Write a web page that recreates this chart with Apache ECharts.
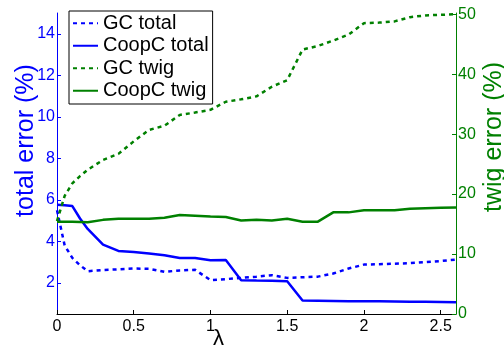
<!DOCTYPE html>
<html>
<head>
<meta charset="utf-8">
<script src="https://cdn.jsdelivr.net/npm/echarts@6/dist/echarts.min.js"></script>
<style>
html, body { margin: 0; padding: 0; background: #fff; }
#Chart { width: 504px; height: 347px; }
</style>
</head>
<body>
<div id="Chart"></div>
<script>
// lambda 取值
var lambdaList = [0, 0.05, 0.1, 0.15, 0.2, 0.3, 0.4, 0.5, 0.6, 0.7, 0.8, 0.9, 1.0, 1.1, 1.2, 1.3, 1.4, 1.5,
    1.6, 1.7, 1.8, 1.9, 2.0, 2.1, 2.2, 2.3, 2.4, 2.5, 2.6];
// total error (%), 左轴
var gcTotal = [5.5, 3.8, 3.2, 2.85, 2.56, 2.62, 2.65, 2.69, 2.68, 2.53, 2.6, 2.63, 2.13, 2.18, 2.24, 2.3, 2.37, 2.24,
    2.27, 2.3, 2.45, 2.69, 2.88, 2.9, 2.92, 2.95, 3.0, 3.05, 3.12];
var coopTotal = [5.76, 5.74, 5.7, 5.1, 4.6, 3.84, 3.54, 3.49, 3.42, 3.33, 3.2, 3.2, 3.09, 3.1, 2.13, 2.11, 2.1, 2.08,
    1.15, 1.14, 1.13, 1.12, 1.12, 1.11, 1.1, 1.09, 1.09, 1.08, 1.07];
// twig error (%), 右轴
var gcTwig = [15.5, 19.7, 21.8, 23.0, 24.05, 25.7, 26.7, 28.8, 30.7, 31.4, 33.2, 33.6, 34.05, 35.4, 35.8, 36.3, 37.9, 39.0,
    44.1, 44.7, 45.6, 46.6, 48.5, 48.6, 48.8, 49.5, 49.8, 49.9, 50.0];
var coopTwig = [15.4, 15.4, 15.4, 15.35, 15.3, 15.7, 15.9, 15.9, 15.9, 16.05, 16.5, 16.4, 16.27, 16.17, 15.6, 15.7, 15.6, 15.9,
    15.4, 15.4, 16.95, 16.95, 17.3, 17.3, 17.3, 17.55, 17.65, 17.72, 17.77];
// 刻度
var xTicks = [0, 0.5, 1, 1.5, 2, 2.5];
var leftTicks = [2, 4, 6, 8, 10, 12, 14];
var rightTicks = [0, 10, 20, 30, 40, 50];

var BLUE = '#0000ff';
var GREEN = '#008000';
var FONT = 'Liberation Sans';

function pairs(ys) {
    var out = [];
    for (var i = 0; i < lambdaList.length; i++) {
        out.push([lambdaList[i], ys[i]]);
    }
    return out;
}

var chart = echarts.init(document.getElementById('Chart'));
var option = {
    animation: false,
    backgroundColor: '#fff',
    grid: { left: 57, right: 48, top: 13, bottom: 33, outerBoundsMode: 'none' },
    legend: {
        orient: 'vertical',
        left: 69,
        top: 11,
        padding: [1, 4, 2, 3],
        itemGap: 0,
        itemWidth: 25,
        itemHeight: 14,
        // 只画线, 不画圆点
        itemStyle: { opacity: 0 },
        backgroundColor: '#fff',
        borderColor: '#000',
        borderWidth: 1,
        borderRadius: 0,
        textStyle: { fontFamily: FONT, fontSize: 20, color: '#000', lineHeight: 22.5 },
        data: ['GC total', 'CoopC total', 'GC twig', 'CoopC twig']
    },
    xAxis: {
        type: 'value',
        min: 0,
        max: 2.6,
        name: 'λ',
        nameLocation: 'middle',
        nameGap: 14,
        nameMoveOverlap: false,
        nameTextStyle: { fontFamily: FONT, fontSize: 22, color: '#000', padding: [0, 76, 0, 0] },
        axisLine: { lineStyle: { color: '#000', width: 1 } },
        axisTick: { inside: true, length: 4, customValues: xTicks, lineStyle: { color: '#000' } },
        axisLabel: { customValues: xTicks, margin: 5, fontFamily: FONT, fontSize: 16, color: '#000' },
        splitLine: { show: false }
    },
    yAxis: [{
        type: 'value',
        position: 'left',
        min: 0.5,
        max: 15,
        name: 'total error (%)',
        nameLocation: 'middle',
        nameRotate: 90,
        nameGap: 18,
        nameMoveOverlap: false,
        nameTextStyle: { fontFamily: FONT, fontSize: 25, color: BLUE, padding: [0, 0, 0, 46] },
        axisLine: { show: true, lineStyle: { color: BLUE, width: 1 } },
        axisTick: { show: true, inside: true, length: 4, customValues: leftTicks, lineStyle: { color: BLUE } },
        axisLabel: { customValues: leftTicks, margin: 2, fontFamily: FONT, fontSize: 16, color: BLUE },
        splitLine: { show: false }
    }, {
        type: 'value',
        position: 'right',
        min: 0,
        max: 50.2,
        name: 'twig error (%)',
        nameLocation: 'middle',
        nameRotate: 90,
        nameGap: 26,
        nameMoveOverlap: false,
        nameTextStyle: { fontFamily: FONT, fontSize: 25, color: GREEN, padding: [0, 0, 0, 53] },
        axisLine: { show: true, lineStyle: { color: GREEN, width: 1 } },
        axisTick: { show: true, inside: true, length: 4, customValues: rightTicks, lineStyle: { color: GREEN } },
        axisLabel: { customValues: rightTicks, margin: 2, fontFamily: FONT, fontSize: 16, color: GREEN },
        splitLine: { show: false }
    }],
    series: [
        {
            name: 'GC total', type: 'line', yAxisIndex: 0, symbol: 'none',
            data: pairs(gcTotal),
            itemStyle: { color: BLUE },
            lineStyle: { color: BLUE, width: 2.5, type: [4, 4], cap: 'butt' }
        },
        {
            name: 'CoopC total', type: 'line', yAxisIndex: 0, symbol: 'none',
            data: pairs(coopTotal),
            itemStyle: { color: BLUE },
            lineStyle: { color: BLUE, width: 2.5 }
        },
        {
            name: 'GC twig', type: 'line', yAxisIndex: 1, symbol: 'none',
            data: pairs(gcTwig),
            itemStyle: { color: GREEN },
            lineStyle: { color: GREEN, width: 2.5, type: [4, 4], cap: 'butt' }
        },
        {
            name: 'CoopC twig', type: 'line', yAxisIndex: 1, symbol: 'none',
            data: pairs(coopTwig),
            itemStyle: { color: GREEN },
            lineStyle: { color: GREEN, width: 2.5 }
        }
    ]
};
chart.setOption(option);
</script>
</body>
</html>
